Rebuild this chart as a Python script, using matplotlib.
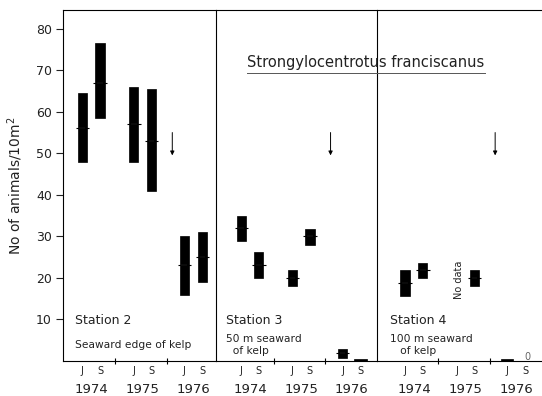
import numpy as np
import matplotlib
matplotlib.use("Agg")
import matplotlib.pyplot as plt
from matplotlib.lines import Line2D

YEARS = ["1974", "1975", "1976"]
MONTHS = ["J", "S"]

# per station: J74, S74, J75, S75, J76, S76  (None = no bar)
st2_low = [48, 58.5, 48, 41, 16, 19]
st2_high = [64.5, 76.5, 66, 65.5, 30, 31]
st2_mean = [56, 67, 57, 53, 23, 25]

st3_low = [28.8, 20, 18, 28, 0.7, 0]
st3_high = [35, 26.2, 21.8, 31.7, 3, 0.5]
st3_mean = [32, 23, 20, 30, 2, None]

st4_low = [15.7, 20, None, 18, 0, None]
st4_high = [21.8, 23.5, None, 21.8, 0.6, None]
st4_mean = [18.7, 22, None, 20, None, None]

station_names = ["Station 2", "Station 3", "Station 4"]
station_notes = ["Seaward edge of kelp", "50 m seaward\n  of kelp", "100 m seaward\n   of kelp"]
arrow_top, arrow_bottom = 55, 49.5

# x positions (year units) of J and S samples
J_POS = [0.37, 1.36, 2.33]
S_POS = [0.71, 1.70, 2.68]
xpos = [p for pair in zip(J_POS, S_POS) for p in pair]
XLIMS = [(0, 2.94), (-0.12, 3.0), (-0.17, 3.0)]
BAR_W = 0.18

plt.rcParams["font.family"] = "DejaVu Sans"
fig = plt.figure(figsize=(5.42, 3.96), dpi=100)
gs = fig.add_gridspec(1, 3, width_ratios=[153, 161, 165], wspace=0,
                      left=63 / 542, right=1.0, bottom=1 - 361 / 396, top=1 - 10 / 396)
axes = [fig.add_subplot(gs[0, i]) for i in range(3)]

data = [(st2_low, st2_high, st2_mean), (st3_low, st3_high, st3_mean),
        (st4_low, st4_high, st4_mean)]

for i, (ax, (lo, hi, mn)) in enumerate(zip(axes, data)):
    for x, l, h, m in zip(xpos, lo, hi, mn):
        if l is None:
            continue
        w = BAR_W if h - l > 1 else BAR_W * 1.3
        ax.bar(x, h - l, bottom=l, width=w, color="black", edgecolor="black", lw=0.5)
        if m is not None:
            ax.hlines(m, x - BAR_W * 0.72, x + BAR_W * 0.72, color="black", lw=0.8)
            ax.hlines(m, x - BAR_W * 0.3, x + BAR_W * 0.3, color="#333333", lw=0.3)
    ax.annotate("", xy=(2.1, arrow_bottom), xytext=(2.1, arrow_top),
                arrowprops=dict(arrowstyle="-|>", color="black", lw=0.7,
                                mutation_scale=6, shrinkA=0, shrinkB=0))
    ax.set_xlim(*XLIMS[i])
    ax.set_ylim(0, 84.5)
    ax.set_xticks([1, 2])
    ax.set_xticklabels([])
    ax.tick_params(axis="x", direction="inout", length=5, width=0.8)
    for sp in ax.spines.values():
        sp.set_linewidth(0.8)
    ax.spines["right"].set_visible(False)
    if i == 0:
        ax.set_yticks(range(10, 81, 10))
        ax.tick_params(axis="y", direction="out", length=5, width=0.8,
                       labelsize=9, pad=3, colors="#222222")
        ax.set_ylabel("No of animals/10m$^2$", fontsize=10, labelpad=8, color="#222222")
    else:
        ax.set_yticks([])
    for x, lab in zip(xpos, MONTHS * 3):
        ax.text(x, -0.028, lab, transform=ax.get_xaxis_transform(), ha="center",
                va="center", fontsize=7, color="#222222")
    for j, yr in enumerate(YEARS):
        ax.text((J_POS[j] + S_POS[j]) / 2, -0.08, yr, transform=ax.get_xaxis_transform(),
                ha="center", va="center", fontsize=9.5, color="#222222")
    sx = 0.23 if i == 0 else 0.08
    ax.text(sx, 9.7, station_names[i], ha="left", va="center", fontsize=9, color="#222222")
    ax.text(sx, 3.9, station_notes[i], ha="left", va="center",
            fontsize=7.7, color="#222222", linespacing=1.25)

axes[2].text(1.4, 19.6, "No data", rotation=90, ha="center", va="center",
             fontsize=7, color="#222222")
axes[2].text(2.72, 0.9, "0", ha="center", va="center", fontsize=7, color="#666666")

title = fig.text(366 / 542, 1 - 63 / 396, "Strongylocentrotus franciscanus",
                 ha="center", va="center", fontsize=10.5, color="#222222")
fig.canvas.draw()
bb = title.get_window_extent().transformed(fig.transFigure.inverted())
fig.add_artist(Line2D([bb.x0, bb.x1], [bb.y0 - 0.006, bb.y0 - 0.006],
                      transform=fig.transFigure, color="#555555", lw=0.7))

fig.savefig("out.png", dpi=100)
